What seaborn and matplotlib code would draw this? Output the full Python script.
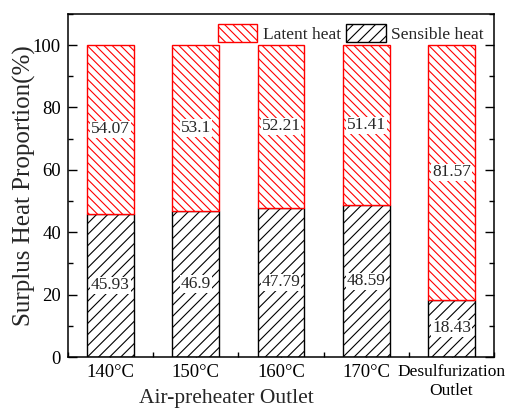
import matplotlib
matplotlib.use("Agg")
import matplotlib.pyplot as plt
import matplotlib.patches as mpatches
from matplotlib.ticker import MultipleLocator, FixedLocator
import seaborn as sns
import pandas as pd
import numpy as np

categories = ["140°C", "150°C", "160°C", "170°C", "Desulfurization\nOutlet"]
sensible = [45.93, 46.9, 47.79, 48.59, 18.43]
latent = [54.07, 53.1, 52.21, 51.41, 81.57]
sensible_labels = ["45.93", "46.9", "47.79", "48.59", "18.43"]
latent_labels = ["54.07", "53.1", "52.21", "51.41", "81.57"]

sns.set_theme(style="ticks")
plt.rcParams["font.family"] = ["Liberation Serif", "DejaVu Serif"]
plt.rcParams["hatch.linewidth"] = 0.8
plt.rcParams["axes.linewidth"] = 1.1

df = pd.DataFrame({"cat": categories, "sensible": sensible, "latent": latent})

fig = plt.figure(figsize=(5.1, 4.08), dpi=100)
ax = fig.add_axes([0.133, 0.125, 0.836, 0.841])

sns.barplot(data=df, x="cat", y="sensible", ax=ax, width=0.55,
            color="white", edgecolor="black", hatch="///", linewidth=1.0)
sns.barplot(data=df, x="cat", y="latent", ax=ax, width=0.55,
            color="white", edgecolor="red", hatch="\\\\\\\\", linewidth=1.0,
            bottom=np.array(sensible))

box = dict(facecolor="white", edgecolor="none", pad=0.5)
ax.bar_label(ax.containers[0], labels=sensible_labels, label_type="center",
             fontsize=12.5, bbox=box)
ax.bar_label(ax.containers[1], labels=latent_labels, label_type="center",
             fontsize=12.5, bbox=box)

ax.set_ylim(0, 110)
ax.set_xlim(-0.5, 4.5)
ax.yaxis.set_major_locator(FixedLocator([0, 20, 40, 60, 80, 100]))
ax.yaxis.set_minor_locator(MultipleLocator(10))
ax.xaxis.set_minor_locator(MultipleLocator(0.5))
ax.tick_params(axis="both", which="both", direction="in", colors="black")
ax.tick_params(axis="y", which="both", right=True)
ax.tick_params(axis="both", which="major", length=6.5, width=1.0, labelsize=13.5, pad=5)
ax.tick_params(axis="both", which="minor", length=3.5, width=1.0)
ax.tick_params(axis="x", which="major", pad=5)
xt = ax.get_xticklabels()
xt[-1].set_fontsize(12.5)
for lbl in xt:
    lbl.set_linespacing(1.25)

ax.set_ylabel("Surplus Heat Proportion(%)", fontsize=18, labelpad=-2)
ax.set_xlabel("Air-preheater Outlet", fontsize=15.5)
ax.xaxis.set_label_coords(0.371, -0.092)
ax.xaxis.label.set_va("top")

for s in ax.spines.values():
    s.set_color("black")
    s.set_linewidth(1.1)

handles = [mpatches.Patch(facecolor="white", edgecolor="red", hatch="\\\\\\\\", label="Latent heat"),
           mpatches.Patch(facecolor="white", edgecolor="black", hatch="///", label="Sensible heat")]
ax.legend(handles=handles, loc="upper right", ncol=2, frameon=False, fontsize=12.5,
          handlelength=2.3, handleheight=1.2, handletextpad=0.3, columnspacing=0.3,
          borderaxespad=0.2)

fig.savefig("out.png", dpi=100)
